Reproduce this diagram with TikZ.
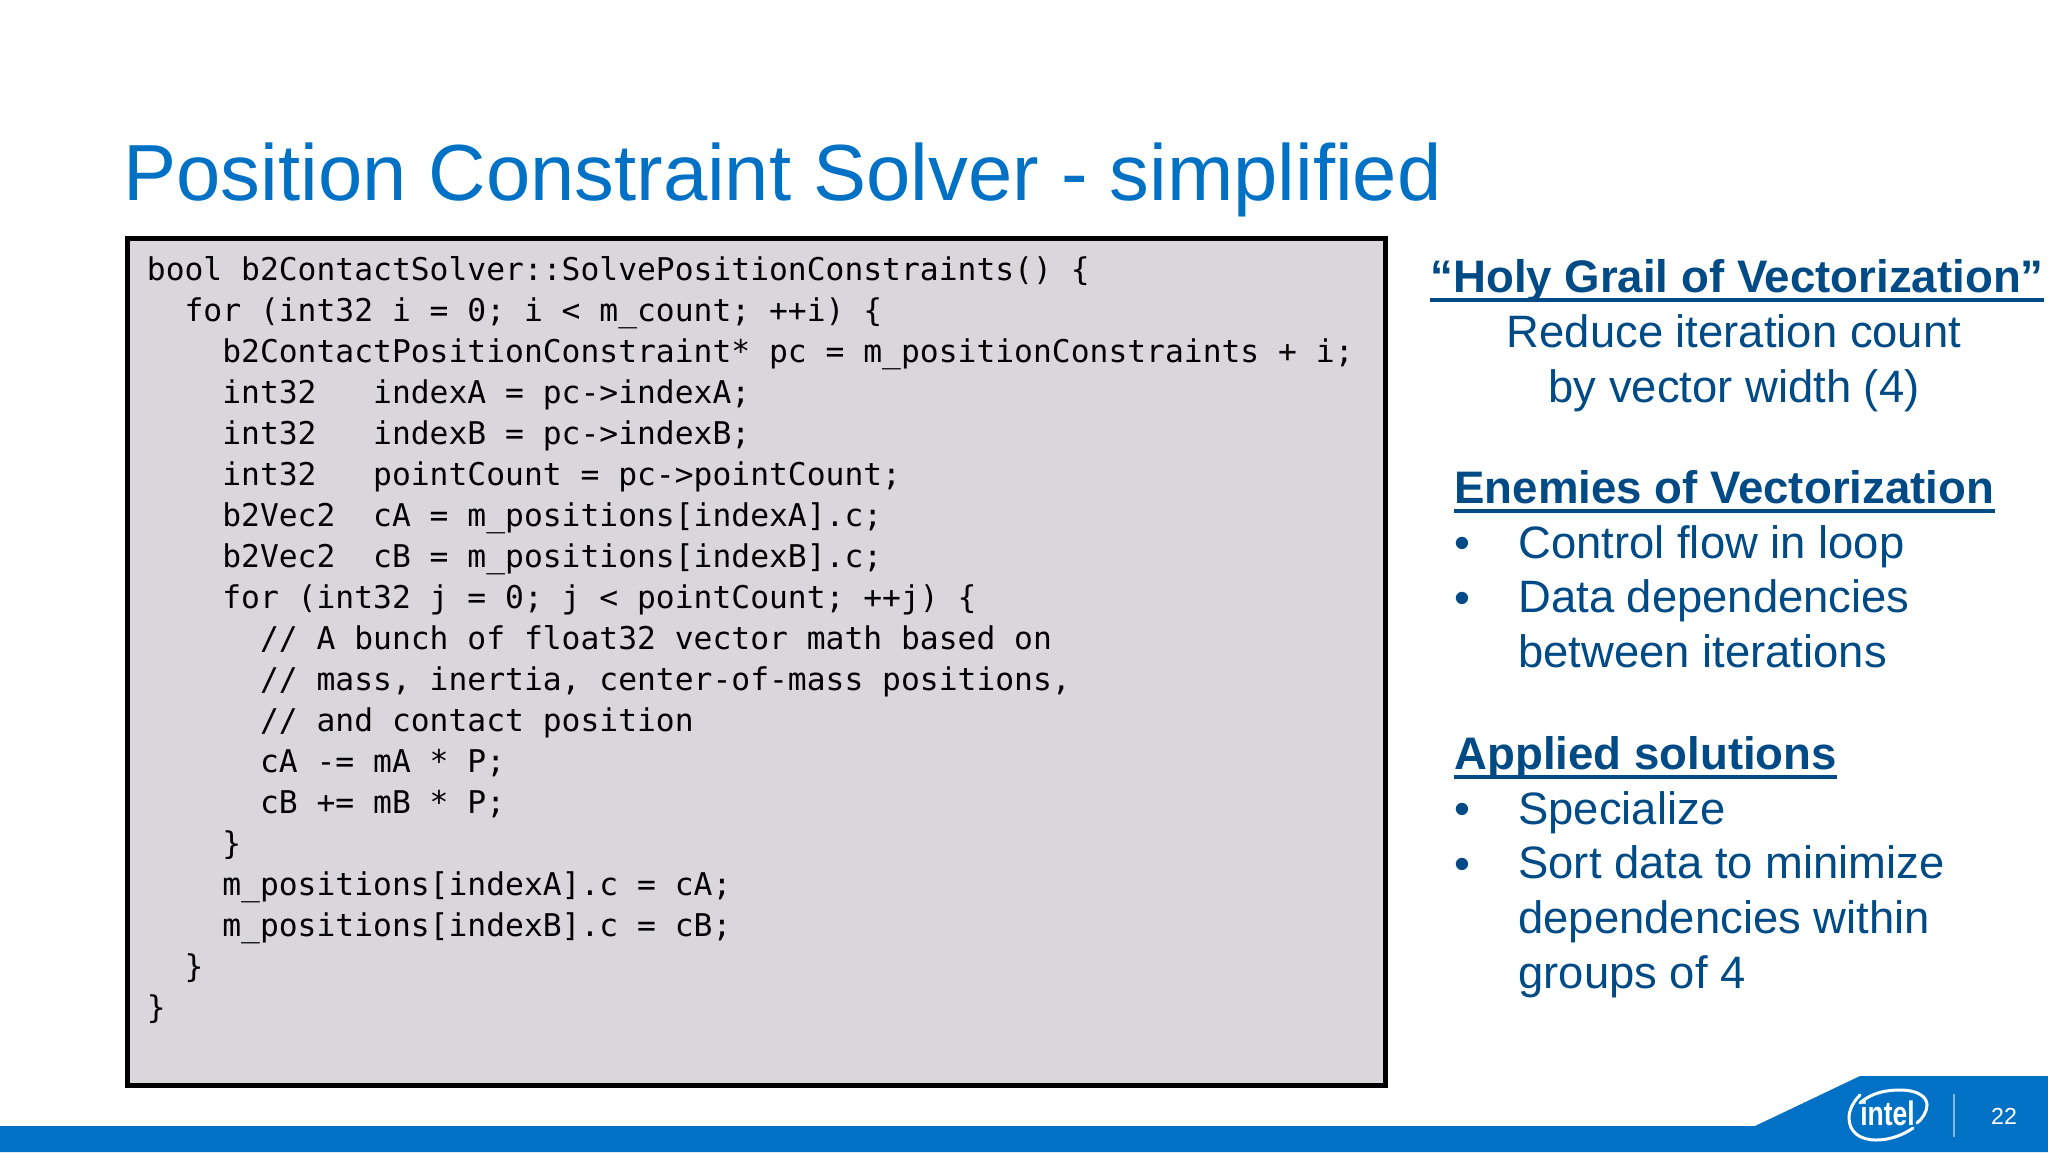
\documentclass[tikz,border=0pt]{standalone}
\usepackage{fontspec}
\setmainfont{Liberation Sans}
\newfontfamily\codefont{DejaVu Sans Mono}
\usetikzlibrary{positioning}
\definecolor{intelblue}{HTML}{0071C5}
\definecolor{inteldark}{HTML}{004A86}
\definecolor{codegray}{HTML}{D9D7DB}
\tikzset{
	title/.style={anchor=base west,inner sep=0pt,text=intelblue,font=\fontsize{39.8}{48}\selectfont},
	codebox/.style={draw=black,line width=2.5pt,fill=codegray},
	code/.style={anchor=base west,inner sep=0pt,align=left,font=\codefont\fontsize{15.66}{20.5}\selectfont},
	head/.style={anchor=base west,inner sep=0pt,text=inteldark,font=\fontsize{22.8}{27.4}\selectfont\bfseries},
	body/.style={anchor=base west,inner sep=0pt,align=left,text=inteldark,font=\fontsize{22.7}{27.4}\selectfont},
	mid/.style={body,anchor=base,align=center},
	rule/.style={inteldark,line width=2pt},
	swoosh/.style={white,line width=1.5pt,line cap=round}
}

\begin{document}
\begin{tikzpicture}[x=0.5pt,y=-0.5pt]
	\useasboundingbox (0,0) rectangle (2048,1152);
	\fill[intelblue] (0,1126) -- (1755,1126) -- (1860,1076) -- (2048,1076) -- (2048,1152) -- (0,1152) -- cycle;
	\node[title] (heading) at (123,200) {Position Constraint Solver - simplified};
	\draw[codebox] (127.5,238.5) rectangle (1385,1085);
	\node[code] (listing) at (146.5,1018.5) {bool b2ContactSolver::SolvePositionConstraints() \{\\
~~for (int32 i = 0; i < m\_count; ++i) \{\\
~~~~b2ContactPositionConstraint* pc = m\_positionConstraints + i;\\
~~~~int32~~~indexA = pc->indexA;\\
~~~~int32~~~indexB = pc->indexB;\\
~~~~int32~~~pointCount = pc->pointCount;\\
~~~~b2Vec2~~cA = m\_positions[indexA].c;\\
~~~~b2Vec2~~cB = m\_positions[indexB].c;\\
~~~~for (int32 j = 0; j < pointCount; ++j) \{\\
~~~~~~// A bunch of float32 vector math based on\\
~~~~~~// mass, inertia, center-of-mass positions,\\
~~~~~~// and contact position\\
~~~~~~cA -= mA * P;\\
~~~~~~cB += mB * P;\\
~~~~\}\\
~~~~m\_positions[indexA].c = cA;\\
~~~~m\_positions[indexB].c = cB;\\
~~\}\\
\}};
	% right column
	\node[head,anchor=base] (grail) at (1737,292.5) {“Holy Grail of Vectorization”};
	\draw[rule] ([yshift=-3.5pt]grail.base west) -- ([yshift=-3.5pt]grail.base east);
	\node[mid] (reduce) at (1734,402.5) {Reduce iteration count\\by vector width (4)};
	\node[head] (enemies) at (1454,503.5) {Enemies of Vectorization};
	\draw[rule] ([yshift=-3.5pt]enemies.base west) -- ([yshift=-3.5pt]enemies.base east);
	\node[body] (flow) at (1518,558.5) {Control flow in loop};
	\node[body] (deps) at (1518,667.5) {Data dependencies\\between iterations};
	\node[head] (applied) at (1454,769.5) {Applied solutions};
	\draw[rule] ([yshift=-3.5pt]applied.base west) -- ([yshift=-3.5pt]applied.base east);
	\node[body] (special) at (1518,824.5) {Specialize};
	\node[body] (sort) at (1518,988.5) {Sort data to minimize\\dependencies within\\groups of 4};
	\foreach \bname/\by in {b1/558.5,b2/613.5,b3/824.5,b4/879.5}
		\node[body] (\bname) at (1454,\by) {•};
	% logo and page number
	\node[inner sep=0pt,text=white,xscale=0.78,font=\fontsize{17}{20}\selectfont\bfseries] (intel) at (1887.5,1113) {intel};
	\draw[swoosh] (1860,1103) .. controls (1872,1092) and (1888,1090) .. (1900,1090) .. controls (1918,1090) and (1927,1097) .. (1927,1105) .. controls (1927,1112) and (1922,1119) .. (1917,1123);
	\draw[swoosh] (1860,1095) .. controls (1853,1102) and (1849,1110) .. (1849,1118) .. controls (1849,1132) and (1860,1140) .. (1876,1140) .. controls (1890,1140) and (1903,1135) .. (1913,1128);
	\draw[white,opacity=0.5,line width=1pt] (1954,1094) -- (1954,1137);
	\node[inner sep=0pt,text=white,font=\fontsize{11.6}{14}\selectfont] (pagenum) at (2004,1116) {22};
\end{tikzpicture}
\end{document}
